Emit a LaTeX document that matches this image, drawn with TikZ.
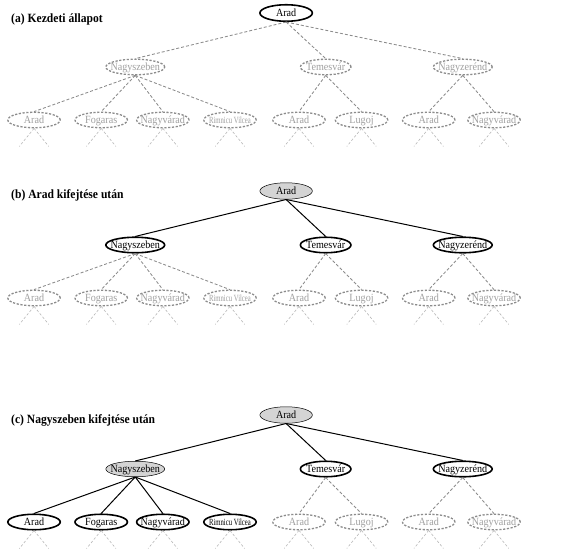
\documentclass[tikz,border=0pt]{standalone}
\usepackage{fontspec}
\setmainfont{Liberation Serif}
\usetikzlibrary{shapes.geometric,calc}
\definecolor{ug}{HTML}{8C8C8C}
\definecolor{ut}{HTML}{A0A0A0}
\definecolor{sg}{HTML}{B8B8B8}
\definecolor{ex}{HTML}{D4D4D4}
\newcommand{\tx}[1]{\makebox[0pt]{\raisebox{-3.6pt}[0pt][0pt]{#1}}}
\newcommand{\rvname}{\scalebox{0.66}[0.86]{Rimnicu Vilcea}}
\tikzset{
  ell/.style={ellipse, inner sep=0pt, minimum width=57pt, minimum height=15.5pt, font=\fontsize{11}{13}\selectfont},
  wideell/.style={minimum width=64pt},
  fringe/.style={ell, draw=black, line width=1.6pt, fill=white},
  expanded/.style={ell, draw=black, line width=0.5pt, fill=ex},
  unseen/.style={ell, draw=ug, line width=1.3pt, dash pattern=on 2.2pt off 1.6pt, text=ut, fill=white},
  solidedge/.style={draw=black, line width=1pt},
  dashedge/.style={draw=ug, line width=0.85pt, dash pattern=on 3pt off 2pt},
  stubline/.style={draw=sg, line width=0.6pt, dash pattern=on 2.5pt off 2pt},
  paneltitle/.style={anchor=base west, font=\fontsize{12.6}{15}\selectfont\bfseries, inner sep=0pt},
}
% #1 prefix, #2 y offset, #3 root style, #4 root edge style, #5 Nagyszeben style,
% #6 other L1 style, #7 Nagyszeben children style, #8 Nagyszeben children edge style
\newcommand{\drawtree}[8]{%
  \begin{scope}[yshift=-#2pt]
    \node[#3, minimum height=16.5pt] (#1r) at (311,13) {\tx{Arad}};
    \node[#5, wideell] (#1n) at (147,67) {\tx{Nagyszeben}};
    \node[#6, minimum width=55pt] (#1t) at (354,67) {\tx{Temesvár}};
    \node[#6, wideell] (#1z) at (503,67) {\tx{Nagyzerénd}};
    \node[#7] (#1n1) at (37,120) {\tx{Arad}};
    \node[#7] (#1n2) at (110,120) {\tx{Fogaras}};
    \node[#7] (#1n3) at (177,120) {\tx{Nagyvárad}};
    \node[#7] (#1n4) at (250,120) {\tx{\rvname}};
    \node[unseen] (#1t1) at (325,120) {\tx{Arad}};
    \node[unseen] (#1t2) at (393,120) {\tx{Lugoj}};
    \node[unseen] (#1z1) at (466,120) {\tx{Arad}};
    \node[unseen] (#1z2) at (537,120) {\tx{Nagyvárad}};
    \foreach \c in {n,t,z} \draw[#4] (#1r.south) -- (#1\c.north);
    \foreach \c in {n1,n2,n3,n4} \draw[#8] (#1n.south) -- (#1\c.north);
    \foreach \c in {t1,t2} \draw[dashedge] (#1t.south) -- (#1\c.north);
    \foreach \c in {z1,z2} \draw[dashedge] (#1z.south) -- (#1\c.north);
    \foreach \c in {n1,n2,n3,n4,t1,t2,z1,z2} {
      \coordinate (#1\c-a) at ($(#1\c.south)+(-16,18)$);
      \coordinate (#1\c-b) at ($(#1\c.south)+(16,18)$);
      \draw[stubline] (#1\c.south) -- (#1\c-a);
      \draw[stubline] (#1\c.south) -- (#1\c-b);
    }
  \end{scope}}
\begin{document}
\begin{tikzpicture}[x=1pt,y=-1pt]
  \useasboundingbox[fill=white] (0,0) rectangle (570,557);
  \begin{scope}[xscale=0.92, transform shape]
    \node[paneltitle] (ta) at (12,22) {(a) Kezdeti állapot};
    \node[paneltitle] (tb) at (12,198) {(b) Arad kifejtése után};
    \node[paneltitle] (tc) at (12,423) {(c) Nagyszeben kifejtése után};
    \drawtree{a}{0}{fringe}{dashedge}{unseen}{unseen}{unseen}{dashedge}
    \drawtree{b}{178}{expanded}{solidedge}{fringe}{fringe}{unseen}{dashedge}
    \drawtree{c}{402}{expanded}{solidedge}{expanded}{fringe}{fringe}{solidedge}
  \end{scope}
\end{tikzpicture}
\end{document}
